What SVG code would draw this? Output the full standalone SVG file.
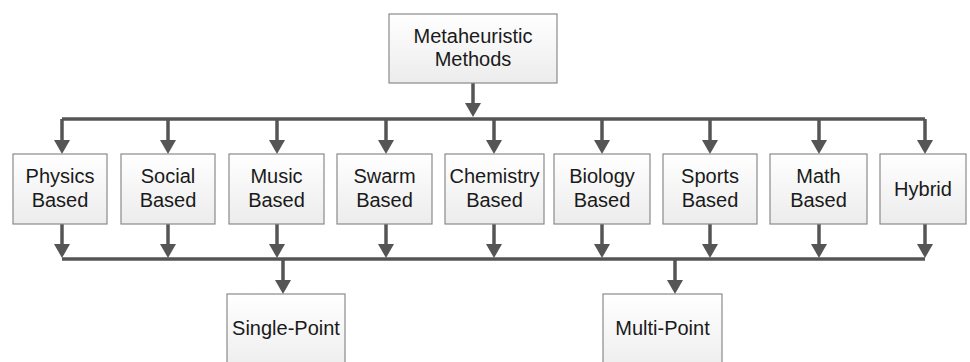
<svg xmlns="http://www.w3.org/2000/svg" width="970" height="362" viewBox="0 0 970 362">
<defs>
<linearGradient id="g" x1="0" y1="0" x2="0" y2="1">
<stop offset="0" stop-color="#ffffff"/>
<stop offset="1" stop-color="#ececec"/>
</linearGradient>
<marker id="ah" viewBox="0 0 14 16" markerWidth="14" markerHeight="16" refX="4" refY="8" orient="auto" markerUnits="userSpaceOnUse">
<path d="M0,0 L14,8 L0,16 z" fill="#555"/>
</marker>
</defs>
<style>
.box{fill:url(#g);stroke:#8a8a8a;stroke-width:1.2}
.t{font-family:"Liberation Sans",Arial,sans-serif;font-size:20px;fill:#1a1a1a;text-anchor:middle}
.c{stroke:#555;stroke-width:3.5;fill:none}
.a{stroke:#555;stroke-width:3.5;fill:none;marker-end:url(#ah)}
</style>
<rect width="970" height="362" fill="#fff"/>
<g id="connectors">
<line class="a" x1="473" y1="83" x2="473" y2="107"/>
<path class="c" d="M62,119 H925"/>
<line class="a" x1="62" y1="119" x2="62" y2="144"/>
<line class="a" x1="168" y1="119" x2="168" y2="144"/>
<line class="a" x1="277" y1="119" x2="277" y2="144"/>
<line class="a" x1="386" y1="119" x2="386" y2="144"/>
<line class="a" x1="494" y1="119" x2="494" y2="144"/>
<line class="a" x1="602" y1="119" x2="602" y2="144"/>
<line class="a" x1="710" y1="119" x2="710" y2="144"/>
<line class="a" x1="819" y1="119" x2="819" y2="144"/>
<line class="a" x1="925" y1="119" x2="925" y2="144"/>
<line class="a" x1="62" y1="224" x2="62" y2="248"/>
<line class="a" x1="168" y1="224" x2="168" y2="248"/>
<line class="a" x1="277" y1="224" x2="277" y2="248"/>
<line class="a" x1="386" y1="224" x2="386" y2="248"/>
<line class="a" x1="494" y1="224" x2="494" y2="248"/>
<line class="a" x1="602" y1="224" x2="602" y2="248"/>
<line class="a" x1="710" y1="224" x2="710" y2="248"/>
<line class="a" x1="819" y1="224" x2="819" y2="248"/>
<line class="a" x1="925" y1="224" x2="925" y2="248"/>
<path class="c" d="M62,259 H925"/>
<line class="a" x1="283" y1="259" x2="283" y2="284"/>
<line class="a" x1="675" y1="259" x2="675" y2="284"/>
</g>
<g id="metaheuristic"><rect class="box" x="389" y="14" width="168" height="69"/><text class="t" x="473" y="43">Metaheuristic</text><text class="t" x="473" y="66">Methods</text></g>
<g id="physics"><rect class="box" x="13" y="154" width="94" height="70"/><text class="t" x="60" y="183">Physics</text><text class="t" x="60" y="207">Based</text></g>
<g id="social"><rect class="box" x="121" y="154" width="94" height="70"/><text class="t" x="168" y="183">Social</text><text class="t" x="168" y="207">Based</text></g>
<g id="music"><rect class="box" x="229" y="154" width="95" height="70"/><text class="t" x="276.5" y="183">Music</text><text class="t" x="276.5" y="207">Based</text></g>
<g id="swarm"><rect class="box" x="337" y="154" width="95" height="70"/><text class="t" x="384.5" y="183">Swarm</text><text class="t" x="384.5" y="207">Based</text></g>
<g id="chemistry"><rect class="box" x="445" y="154" width="99" height="70"/><text class="t" x="494.5" y="183">Chemistry</text><text class="t" x="494.5" y="207">Based</text></g>
<g id="biology"><rect class="box" x="554" y="154" width="96" height="70"/><text class="t" x="602" y="183">Biology</text><text class="t" x="602" y="207">Based</text></g>
<g id="sports"><rect class="box" x="663" y="154" width="94" height="70"/><text class="t" x="710" y="183">Sports</text><text class="t" x="710" y="207">Based</text></g>
<g id="math"><rect class="box" x="770" y="154" width="97" height="70"/><text class="t" x="818.5" y="183">Math</text><text class="t" x="818.5" y="207">Based</text></g>
<g id="hybrid"><rect class="box" x="880" y="154" width="86" height="70"/><text class="t" x="923" y="196">Hybrid</text></g>
<g id="single-point"><rect class="box" x="227" y="294" width="118" height="80"/><text class="t" x="286" y="335">Single-Point</text></g>
<g id="multi-point"><rect class="box" x="603" y="294" width="119" height="80"/><text class="t" x="662.5" y="335">Multi-Point</text></g>
</svg>
